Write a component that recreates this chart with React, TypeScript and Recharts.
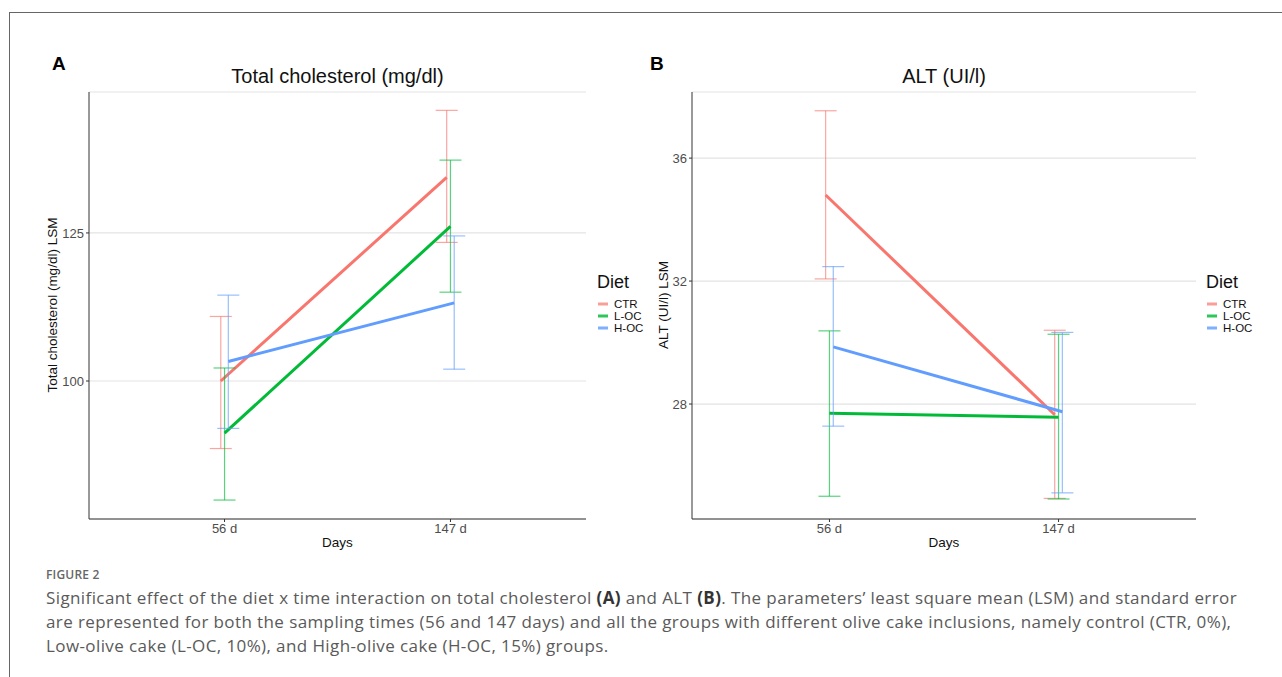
import { ComposedChart, Line, ErrorBar, XAxis, YAxis, CartesianGrid, Legend } from "recharts";

const days = ["56 d", "147 d"];
const diets = ["CTR", "L-OC", "H-OC"];
const colors = ["#F8766D", "#00BA38", "#619CFF"];
const barColors = ["rgba(248,118,109,0.65)", "rgba(0,186,56,0.65)", "rgba(97,156,255,0.65)"];
const keyColors = ["#FA9E98", "#2EC659", "#7FAFFF"];

// Total cholesterol (mg/dl) LSM, low and high ends of the standard error bar
const cholCTR = [100.0, 134.4];
const cholCTRLow = [88.6, 123.4];
const cholCTRHigh = [110.9, 145.7];
const cholLOC = [91.2, 126.1];
const cholLOCLow = [79.9, 115.0];
const cholLOCHigh = [102.2, 137.3];
const cholHOC = [103.3, 113.2];
const cholHOCLow = [92.0, 102.0];
const cholHOCHigh = [114.5, 124.5];
const cholTicks = [100, 125];

// ALT (UI/l) LSM
const altCTR = [34.8, 27.65];
const altCTRLow = [32.07, 24.93];
const altCTRHigh = [37.54, 30.4];
const altLOC = [27.7, 27.57];
const altLOCLow = [25.0, 24.91];
const altLOCHigh = [30.38, 30.27];
const altHOC = [29.86, 27.75];
const altHOCLow = [27.28, 25.11];
const altHOCHigh = [32.47, 30.33];
const altTicks = [28, 32, 36];

const dodge = [-1 / 60, 0, 1 / 60];

const toPoints = (mean: number[], low: number[], high: number[], d: number) =>
  mean.map((m, i) => ({
    x: i + 1 + dodge[d],
    y: m,
    err: [m - low[i], high[i] - m],
  }));

const cholSeries = [
  toPoints(cholCTR, cholCTRLow, cholCTRHigh, 0),
  toPoints(cholLOC, cholLOCLow, cholLOCHigh, 1),
  toPoints(cholHOC, cholHOCLow, cholHOCHigh, 2),
];
const altSeries = [
  toPoints(altCTR, altCTRLow, altCTRHigh, 0),
  toPoints(altLOC, altLOCLow, altLOCHigh, 1),
  toPoints(altHOC, altHOCLow, altHOCHigh, 2),
];

const font = "'Liberation Sans', Arial, sans-serif";
const captionFont = "'Open Sans', sans-serif";

const DietLegend = () => (
  <div style={{ fontFamily: font, color: "#111" }}>
    <div style={{ fontSize: 18, lineHeight: "20px", marginBottom: 6 }}>Diet</div>
    {diets.map((d, i) => (
      <div key={d} style={{ display: "flex", alignItems: "center", height: 12, fontSize: 11.5 }}>
        <svg width={16} height={12}>
          <line x1={1} x2={11} y1={6} y2={6} stroke={keyColors[i]} strokeWidth={3} />
        </svg>
        <span style={{ marginLeft: 1 }}>{d}</span>
      </div>
    ))}
  </div>
);

interface PanelProps {
  series: { x: number; y: number; err: number[] }[][];
  domain: [number, number];
  ticks: number[];
  width: number;
  yWidth: number;
  right: number;
  legendLeft: number;
}

const Panel = ({ series, domain, ticks, width, yWidth, right, legendLeft }: PanelProps) => (
  <ComposedChart width={width} height={560} margin={{ top: 92, right, bottom: 0, left: 0 }}>
    <CartesianGrid vertical={false} stroke="#e3e3e3" strokeWidth={1.2} />
    <XAxis
      type="number"
      dataKey="x"
      domain={[0.4, 2.6]}
      ticks={[1, 2]}
      allowDataOverflow
      tickFormatter={(v: number) => days[v - 1]}
      height={41}
      stroke="#333"
      tickSize={3}
      tick={{ fill: "#4d4d4d", fontSize: 13, fontFamily: font }}
    />
    <YAxis
      type="number"
      domain={domain}
      ticks={ticks}
      allowDataOverflow
      width={yWidth}
      stroke="#333"
      tickSize={3}
      tick={{ fill: "#4d4d4d", fontSize: 13, fontFamily: font }}
    />
    {series.map((pts, i) => (
      <Line
        key={diets[i]}
        data={pts}
        dataKey="y"
        name={diets[i]}
        stroke={colors[i]}
        strokeWidth={3}
        dot={false}
        activeDot={false}
        isAnimationActive={false}
      >
        <ErrorBar dataKey="err" direction="y" width={11} stroke={barColors[i]} strokeWidth={1.2} />
      </Line>
    ))}
    <Legend
      verticalAlign="middle"
      align="center"
      content={() => <DietLegend />}
      wrapperStyle={{ left: legendLeft, top: 272, width: 60 }}
    />
  </ComposedChart>
);

const abs = (left: number, top: number, extra: React.CSSProperties = {}): React.CSSProperties => ({
  position: "absolute",
  left,
  top,
  ...extra,
});

const rotatedLabel = (cx: number): React.CSSProperties =>
  abs(cx - 150, 305 - 8, {
    width: 300,
    textAlign: "center",
    transform: "rotate(-90deg)",
    fontFamily: font,
    fontSize: 13.5,
    lineHeight: "16px",
    color: "#111",
  });

export default function App() {
  return (
    <div style={{ position: "absolute", left: 0, top: 0, width: 1282, height: 677, background: "#fff", overflow: "hidden" }}>
      <div
        style={abs(9, 12, {
          width: 1290,
          height: 700,
          borderTop: "1px solid #666",
          borderLeft: "1px solid #666",
        })}
      />
      <div style={abs(0, 0)}>
        <Panel
          series={cholSeries}
          domain={[76.7, 148.8]}
          ticks={cholTicks}
          width={640}
          yWidth={89}
          right={54}
          legendLeft={597}
        />
      </div>
      <div style={abs(640, 0)}>
        <Panel
          series={altSeries}
          domain={[24.26, 38.15]}
          ticks={altTicks}
          width={642}
          yWidth={52}
          right={86}
          legendLeft={566}
        />
      </div>

      <div style={abs(52, 53, { fontFamily: font, fontWeight: 700, fontSize: 19 })}>A</div>
      <div style={abs(650, 53, { fontFamily: font, fontWeight: 700, fontSize: 19 })}>B</div>
      <div style={abs(89, 65, { width: 497, textAlign: "center", fontFamily: font, fontSize: 20, color: "#111" })}>
        Total cholesterol (mg/dl)
      </div>
      <div style={abs(692, 65, { width: 504, textAlign: "center", fontFamily: font, fontSize: 20, color: "#111" })}>
        ALT (UI/l)
      </div>
      <div style={abs(89, 535, { width: 497, textAlign: "center", fontFamily: font, fontSize: 13.5, color: "#111" })}>
        Days
      </div>
      <div style={abs(692, 535, { width: 504, textAlign: "center", fontFamily: font, fontSize: 13.5, color: "#111" })}>
        Days
      </div>
      <div style={rotatedLabel(53)}>Total cholesterol (mg/dl) LSM</div>
      <div style={rotatedLabel(664)}>ALT (UI/l) LSM</div>

      <div style={abs(46, 566, { fontFamily: captionFont, fontWeight: 600, fontSize: 12, color: "#666", letterSpacing: 0.2 })}>
        FIGURE 2
      </div>
      <div
        style={abs(46, 586, {
          fontFamily: captionFont,
          fontSize: 17,
          letterSpacing: 0.4,
          lineHeight: "24px",
          color: "#5a5a5a",
          whiteSpace: "nowrap",
        })}
      >
        Significant effect of the diet x time interaction on total cholesterol <b style={{ color: "#333" }}>(A)</b> and ALT{" "}
        <b style={{ color: "#333" }}>(B)</b>. The parameters’ least square mean (LSM) and standard error
        <br />
        are represented for both the sampling times (56 and 147 days) and all the groups with different olive cake inclusions, namely control (CTR, 0%),
        <br />
        Low-olive cake (L-OC, 10%), and High-olive cake (H-OC, 15%) groups.
      </div>
    </div>
  );
}
